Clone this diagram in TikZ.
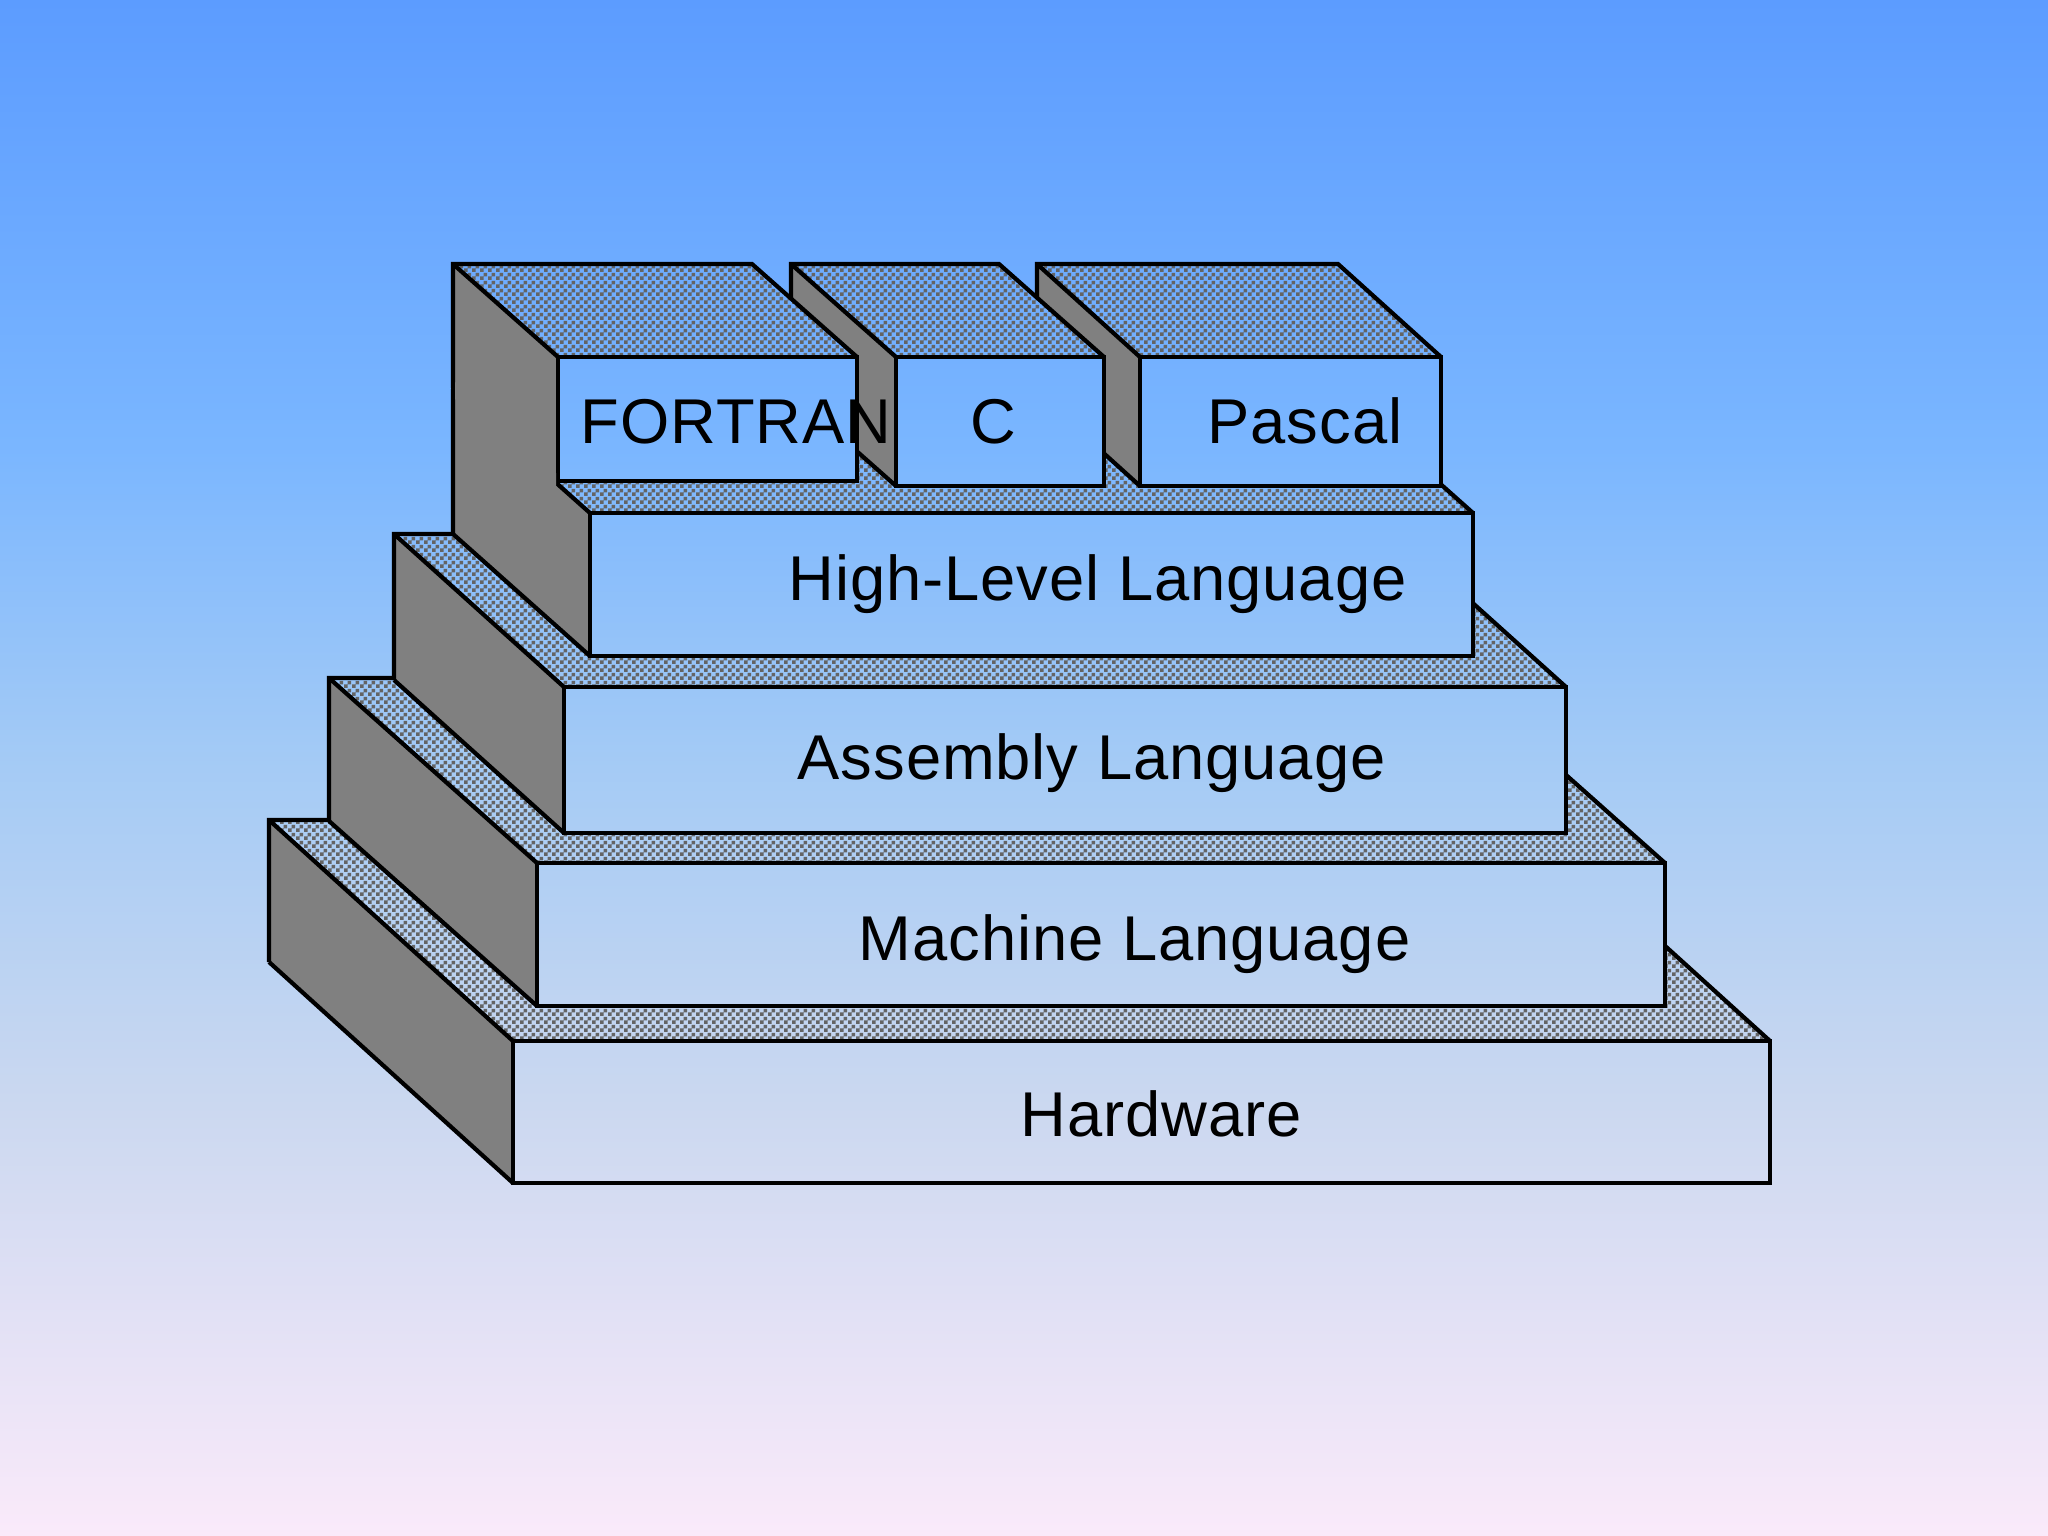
\documentclass[tikz,border=0pt]{standalone}
\usepackage{fontspec}
\setmainfont{Liberation Sans}
\newfontfamily\langfont[LetterSpace=1.5]{Liberation Sans}
\usetikzlibrary{patterns}

\definecolor{bgtop}{RGB}{92,156,255}
\definecolor{bghigh}{RGB}{122,182,255}
\definecolor{bgmid}{RGB}{165,203,245}
\definecolor{bglow}{RGB}{203,216,240}
\definecolor{bgbot}{RGB}{250,234,250}
\definecolor{sidegray}{RGB}{128,128,128}
\definecolor{checkgray}{RGB}{100,100,100}

\pgfdeclareverticalshading{bgfade}{100bp}{color(0bp)=(bgbot); color(25bp)=(bgbot); color(39bp)=(bglow); color(50bp)=(bgmid); color(60.5bp)=(bghigh); color(75bp)=(bgtop); color(100bp)=(bgtop)}

\pgfdeclarepatternformonly{finechecker}{\pgfqpoint{0pt}{0pt}}{\pgfqpoint{2.276pt}{2.276pt}}{\pgfqpoint{2.276pt}{2.276pt}}{%
  \pgfpathrectangle{\pgfpointorigin}{\pgfqpoint{1.138pt}{1.138pt}}%
  \pgfpathrectangle{\pgfqpoint{1.138pt}{1.138pt}}{\pgfqpoint{1.138pt}{1.138pt}}%
  \pgfusepath{fill}}

\tikzset{
  edge/.style={draw=black, line width=1.2pt},
  frontface/.style={edge, path picture={\shade[shading=bgfade] (bg-nw) rectangle (bg-se);}},
  topface/.style={path picture={\shade[shading=bgfade] (bg-nw) rectangle (bg-se);
      \fill[pattern=finechecker, pattern color=checkgray] (bg-nw) rectangle (bg-se);}},
  sideface/.style={fill=sidegray},
  lang/.style={font=\langfont\fontsize{18}{22}\selectfont, anchor=base west, inner sep=0pt}
}

% #1,#2 back top left, #3,#4 depth, #5 width, #6 height, #7 options for the side's lower edge
\newcommand\block[7]{%
  \path[topface] (#1,#2) -- ++(#5,0) -- ++(#3,#4) -- ++(-#5,0) -- cycle;
  \fill[sideface] (#1,#2) -- ++(#3,#4) -- ++(0,#6) -- ++(-#3,-#4) -- cycle;
  \draw[edge] ({#1},{#2+#6}) -- (#1,#2) -- ++(#5,0) -- ++(#3,#4);
  \draw[edge] (#1,#2) -- ++(#3,#4);
  \draw[edge, #7] ({#1},{#2+#6}) -- ++(#3,#4);
  \path[frontface] ({#1+#3},{#2+#4}) rectangle ++(#5,#6);
}

\begin{document}
\begin{tikzpicture}[x=0.01cm, y=-0.01cm]
  \coordinate (bg-nw) at (0,0);
  \coordinate (bg-se) at (2048,1536);
  \useasboundingbox (bg-nw) rectangle (bg-se);
  \shade[shading=bgfade] (bg-nw) rectangle (bg-se);
  %\draw[help lines, step=100] (0,0) grid (2048,1536);

  \block{269}{820}{244}{221}{1257}{142}{}   % Hardware
  \block{329}{678}{208}{185}{1128}{143}{}   % Machine
  \block{394}{534}{170}{153}{1002}{146}{}   % Assembly
  \block{453}{391}{137}{122}{883}{143}{}    % High-Level
  \block{1037}{264}{103}{93}{301}{129}{}    % Pascal
  \block{791}{264}{105}{93}{208}{129}{}     % C
  \block{453}{264}{105}{93}{299}{124}{draw=none} % FORTRAN
  % FORTRAN side runs on into the High-Level side
  \fill[sideface] (455,382) -- (556,473) -- (556,490) -- (455,399) -- cycle;
  \draw[edge] (453,380) -- (453,400);

  \node[lang] (fortran) at (580,443) {FORTRAN};
  \node[lang, anchor=base] (c) at (993,443) {C};
  \node[lang] (pascal) at (1207,443) {Pascal};
  \node[lang] (highlevel) at (788,600) {High-Level Language};
  \node[lang] (assembly) at (797,779) {Assembly Language};
  \node[lang] (machine) at (858,960) {Machine Language};
  \node[lang] (hardware) at (1020,1136) {Hardware};
\end{tikzpicture}
\end{document}
